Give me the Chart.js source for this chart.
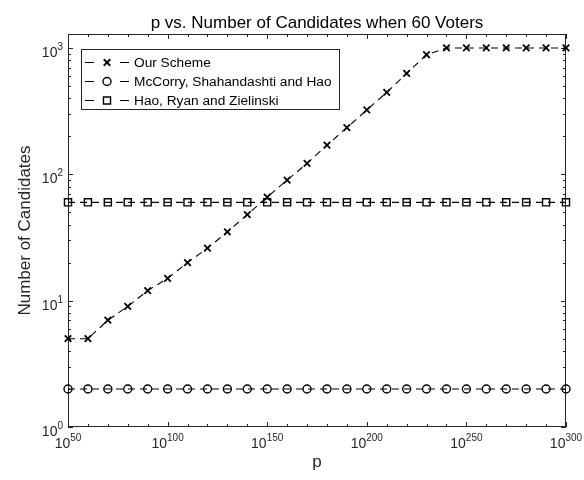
<!DOCTYPE html>
<html>
<head>
<meta charset="utf-8">
<script src="https://cdn.jsdelivr.net/npm/chart.js@4"></script>
<style>
  body { margin: 0; background: #fff; }
</style>
</head>
<body>
<canvas id="pChart" width="584" height="480"></canvas>
<script>
// ================= DATA =================
// x is the exponent of p (p = 10^x)
const pExponents = [50, 60, 70, 80, 90, 100, 110, 120, 130, 140, 150, 160, 170,
  180, 190, 200, 210, 220, 230, 240, 250, 260, 270, 280, 290, 300];
const ourScheme = [5, 5, 7, 9, 12, 15, 20, 26, 35, 48, 66, 90, 122,
  170, 234, 323, 445, 630, 884, 1000, 1000, 1000, 1000, 1000, 1000, 1000];
const mcCorry = [2, 2, 2, 2, 2, 2, 2, 2, 2, 2, 2, 2, 2,
  2, 2, 2, 2, 2, 2, 2, 2, 2, 2, 2, 2, 2];
const haoRyan = [60, 60, 60, 60, 60, 60, 60, 60, 60, 60, 60, 60, 60,
  60, 60, 60, 60, 60, 60, 60, 60, 60, 60, 60, 60, 60];

const seriesNames = ['Our Scheme', 'McCorry, Shahandashti and Hao', 'Hao, Ryan and Zielinski'];
const xTickExps = [50, 100, 150, 200, 250, 300];
const yTickValues = [1, 10, 100, 1000];
const yTickExps = ['0', '1', '2', '3'];

const FONT = '"Liberation Sans", Arial, Helvetica, sans-serif';
const AXIS_COLOR = '#262626';

function toPoints(vals) {
  return pExponents.map((e, i) => ({ x: e, y: vals[i] }));
}

// "10" with a raised exponent
function drawPow(ctx, exp, x, y, align) {
  ctx.font = '14px ' + FONT;
  const wb = ctx.measureText('10').width;
  ctx.font = '10px ' + FONT;
  const we = ctx.measureText(exp).width;
  const total = wb + we;
  const start = align === 'center' ? x - total / 2 : x - total;
  ctx.textAlign = 'left';
  ctx.textBaseline = 'alphabetic';
  ctx.font = '14px ' + FONT;
  ctx.fillText('10', start, y);
  ctx.font = '10px ' + FONT;
  ctx.fillText(exp, start + wb, y - 7);
}

// ================= AXES / LABELS PLUGIN =================
const matlabAxes = {
  id: 'matlabAxes',
  beforeDatasetsDraw(chart) {
    const { ctx, chartArea: a, scales: { x, y } } = chart;
    ctx.save();
    ctx.strokeStyle = AXIS_COLOR;
    ctx.lineWidth = 1;
    ctx.strokeRect(a.left + 0.5, a.top + 0.5, a.right - a.left - 1, a.bottom - a.top - 1);

    ctx.beginPath();
    // x ticks: every 10, major every 50
    for (let e = x.min; e <= x.max; e += 10) {
      const px = Math.round(x.getPixelForValue(e)) + 0.5;
      const len = (e % 50 === 0) ? 5 : 3;
      ctx.moveTo(px, a.bottom); ctx.lineTo(px, a.bottom - len);
      ctx.moveTo(px, a.top); ctx.lineTo(px, a.top + len);
    }
    // y ticks: log minors
    for (let d = 1; d <= 1000; d *= 10) {
      for (let m = 1; m <= 9; m++) {
        const v = d * m;
        if (v > y.max) break;
        const py = Math.round(y.getPixelForValue(v)) + 0.5;
        const len = (m === 1) ? 5 : 3;
        ctx.moveTo(a.left, py); ctx.lineTo(a.left + len, py);
        ctx.moveTo(a.right, py); ctx.lineTo(a.right - len, py);
      }
    }
    ctx.stroke();
    ctx.restore();
  },
  afterDraw(chart) {
    const { ctx, chartArea: a, scales: { x, y } } = chart;
    ctx.save();
    ctx.fillStyle = AXIS_COLOR;

    xTickExps.forEach(e => drawPow(ctx, String(e), x.getPixelForValue(e), a.bottom + 21, 'center'));
    yTickValues.forEach((v, i) => drawPow(ctx, yTickExps[i], a.left - 5, y.getPixelForValue(v) + 9, 'right'));

    // title
    ctx.fillStyle = '#000';
    ctx.font = '17px ' + FONT;
    ctx.textAlign = 'center';
    ctx.textBaseline = 'alphabetic';
    ctx.fillText('p vs. Number of Candidates when 60 Voters', (a.left + a.right) / 2, 28);

    // axis titles
    ctx.fillStyle = AXIS_COLOR;
    ctx.fillText('p', (a.left + a.right) / 2, 467);
    ctx.save();
    ctx.translate(30, (a.top + a.bottom) / 2);
    ctx.rotate(-Math.PI / 2);
    ctx.fillText('Number of Candidates', 0, 0);
    ctx.restore();

    // legend
    const bx = 81, by = 49, bw = 258, bh = 60;
    ctx.fillStyle = '#fff';
    ctx.fillRect(bx, by, bw, bh);
    ctx.strokeStyle = AXIS_COLOR;
    ctx.lineWidth = 1;
    ctx.strokeRect(bx + 0.5, by + 0.5, bw, bh);

    chart.data.datasets.forEach((ds, i) => {
      const ry = Math.round(62 + i * 19.2) + 0.5;
      ctx.strokeStyle = '#000';
      ctx.lineWidth = 1;
      ctx.beginPath();
      ctx.moveTo(85, ry); ctx.lineTo(94, ry);
      ctx.moveTo(120, ry); ctx.lineTo(129, ry);
      ctx.stroke();
      ctx.fillStyle = 'rgba(0,0,0,0)';
      ctx.lineWidth = ds.pointBorderWidth;
      Chart.helpers.drawPoint(ctx, {
        pointStyle: ds.pointStyle, rotation: 0,
        radius: ds.pointRadius, borderWidth: ds.pointBorderWidth
      }, 107, ry);
      ctx.fillStyle = '#000';
      ctx.font = '13.7px ' + FONT;
      ctx.textAlign = 'left';
      ctx.textBaseline = 'middle';
      ctx.fillText(ds.label, 134, ry + 1);
    });
    ctx.restore();
  }
};

// ================= CHART =================
const lineStyle = {
  borderColor: '#000',
  borderWidth: 1.1,
  borderDash: [7, 5],
  pointBorderColor: '#000',
  pointBackgroundColor: 'rgba(0,0,0,0)',
  pointBorderWidth: 1.4,
  tension: 0,
  clip: false
};

new Chart(document.getElementById('pChart'), {
  type: 'line',
  data: {
    datasets: [
      Object.assign({ label: seriesNames[0], data: toPoints(ourScheme), pointStyle: 'crossRot', pointRadius: 4.6 }, lineStyle, { pointBorderWidth: 1.8 }),
      Object.assign({ label: seriesNames[1], data: toPoints(mcCorry), pointStyle: 'circle', pointRadius: 4 }, lineStyle),
      Object.assign({ label: seriesNames[2], data: toPoints(haoRyan), pointStyle: 'rect', pointRadius: 5 }, lineStyle)
    ]
  },
  options: {
    responsive: false,
    animation: false,
    events: [],
    layout: { padding: { left: 68, right: 18, top: 34, bottom: 53 } },
    plugins: {
      legend: { display: false },
      title: { display: false },
      tooltip: { enabled: false }
    },
    scales: {
      x: {
        type: 'linear',
        display: false,
        min: 50,
        max: 300
      },
      y: {
        type: 'logarithmic',
        display: false,
        min: 1,
        max: 1290
      }
    }
  },
  plugins: [matlabAxes]
});
</script>
</body>
</html>
